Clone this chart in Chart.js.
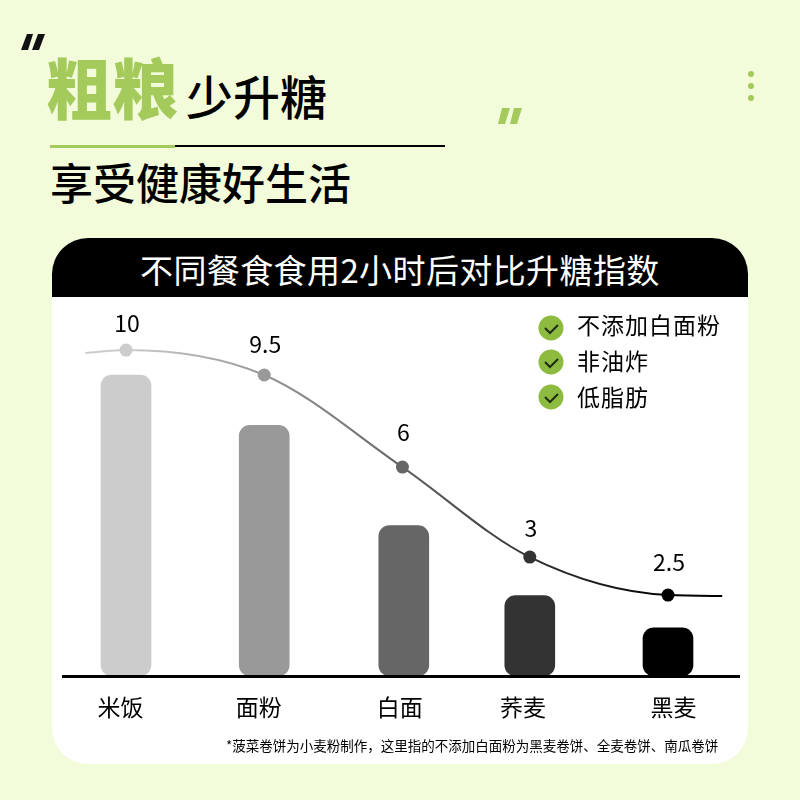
<!DOCTYPE html>
<html lang="zh">
<head>
<meta charset="utf-8">
<title>粗粮少升糖</title>
<script src="https://cdn.jsdelivr.net/npm/chart.js@4"></script>
<style>
    html, body { margin: 0; padding: 0; }
    body {
        position: relative;
        width: 800px;
        height: 800px;
        overflow: hidden;
        background: #f2fcdb;
        color: #000;
        font-family: "Noto Sans CJK SC", "Noto Sans", sans-serif;
    }
    .txt { position: absolute; line-height: 1; white-space: nowrap; }
    .abs { position: absolute; }
    #coarse { left: 46px; top: 52px; font-size: 66px; font-weight: 900; color: #a5ca5c; }
    #less { left: 186px; top: 71px; font-size: 47px; font-weight: 500; }
    #sub { left: 50px; top: 160px; font-size: 43px; font-weight: 500; }
    #rule-green { left: 50px; top: 145px; width: 125px; height: 3px; background: #a5ca5c; }
    #rule-black { left: 175px; top: 145px; width: 270px; height: 2px; background: #000; }
    #card { left: 52px; top: 238px; width: 696px; height: 526px; background: #fff; border-radius: 36px; overflow: hidden; }
    #card-head { left: 0; top: 0; width: 696px; height: 59px; background: #000; }
    #head-text { left: 140px; top: 253px; font-size: 33px; color: #fff; letter-spacing: 0.4px; }
    #chart { left: 52px; top: 297px; }
    .feat { left: 577px; font-size: 23px; letter-spacing: 1px; }
    #note { left: 226px; top: 739px; font-size: 13.5px; }
</style>
</head>
<body>
<svg class="abs" width="800" height="800" style="left:0;top:0">
    <polygon points="27,34 33,34 28,50 21,50" fill="#111"/>
    <polygon points="38,34 45,34 39,50 32,50" fill="#111"/>
    <polygon points="502,108 510,108 505,124 498,124" fill="#a5ca5c"/>
    <polygon points="514,108 522,108 517,124 510,124" fill="#a5ca5c"/>
    <circle cx="751" cy="74" r="3" fill="#a5ca5c"/>
    <circle cx="751" cy="86" r="3" fill="#a5ca5c"/>
    <circle cx="751" cy="98" r="3" fill="#a5ca5c"/>
</svg>

<div class="txt" id="coarse">粗粮</div>
<div class="txt" id="less">少升糖</div>
<div class="abs" id="rule-green"></div>
<div class="abs" id="rule-black"></div>
<div class="txt" id="sub">享受健康好生活</div>

<div class="abs" id="card"><div class="abs" id="card-head"></div></div>
<div class="txt" id="head-text">不同餐食食用2小时后对比升糖指数</div>

<canvas class="abs" id="chart" width="696" height="440"></canvas>

<svg class="abs" width="800" height="800" style="left:0;top:0">
    <g fill="#8dbb3f">
        <circle cx="551" cy="328" r="12.5"/>
        <circle cx="551" cy="362" r="12.5"/>
        <circle cx="551" cy="397" r="12.5"/>
    </g>
    <g fill="none" stroke="#1c2b10" stroke-width="2">
        <polyline points="545,328 550,333 558,325"/>
        <polyline points="545,362 550,367 558,359"/>
        <polyline points="545,397 550,402 558,394"/>
    </g>
</svg>
<div class="txt feat" style="top:313px">不添加白面粉</div>
<div class="txt feat" style="top:349px">非油炸</div>
<div class="txt feat" style="top:385px">低脂肪</div>
<div class="txt" id="note">*菠菜卷饼为小麦粉制作，这里指的不添加白面粉为黑麦卷饼、全麦卷饼、南瓜卷饼</div>

<script>
    // 数据
    const categories = ["米饭", "面粉", "白面", "荞麦", "黑麦"];
    const printedValues = ["10", "9.5", "6", "3", "2.5"];
    // slots on the x axis, the picture does not space them evenly
    const barSlots = [0, 1.02, 2.05, 2.98, 4];
    const labelSlots = [-0.04, 0.98, 2.02, 2.93, 4.04];
    const barValues = [10, 8.33, 5, 2.67, 1.6];
    // curve runs a little past the first and last bar
    const curveSlots = [-0.3, 0, 1.02, 2.04, 2.98, 4, 4.4];
    const curveValues = [10.73, 10.83, 10, 6.94, 3.95, 2.69, 2.66];
    const barColors = ["#cccccc", "#999999", "#666666", "#333333", "#000000"];

    const labelLift = [27, 31, 35, 29, 33];

    const printedLabels = {
        id: "printedLabels",
        afterDatasetsDraw(chart) {
            const pts = chart.getDatasetMeta(1).data;
            const c = chart.ctx;
            c.save();
            c.font = '23px "Noto Sans CJK SC"';
            c.fillStyle = "#000";
            c.textAlign = "center";
            c.textBaseline = "middle";
            printedValues.forEach((txt, i) => {
                const p = pts[i + 1];
                c.fillText(txt, p.x + 1, p.y - labelLift[i]);
            });
            c.restore();
        }
    };

    function curveColor(ctx) {
        const chart = ctx.chart;
        if (!chart.chartArea) return "#888";
        const x = chart.scales.x;
        const g = chart.ctx.createLinearGradient(x.getPixelForValue(0), 0, x.getPixelForValue(4), 0);
        barColors.forEach((col, i) => g.addColorStop(i / 4, col));
        return g;
    }

    new Chart(document.getElementById("chart"), {
        type: "bar",
        data: {
            datasets: [{
                type: "bar",
                data: barSlots.map((x, i) => ({ x: x, y: barValues[i] })),
                backgroundColor: barColors,
                barThickness: 50,
                borderRadius: 11,
                borderSkipped: false,
                order: 2
            }, {
                type: "line",
                data: curveSlots.map((x, i) => ({ x: x, y: curveValues[i] })),
                borderColor: curveColor,
                borderWidth: 2,
                cubicInterpolationMode: "monotone",
                pointRadius: [0, 6.5, 6.5, 6.5, 6.5, 6.5, 0],
                pointBorderWidth: 0,
                pointBackgroundColor: ["#ccc"].concat(barColors, ["#000"]),
                order: 1
            }]
        },
        options: {
            responsive: false,
            animation: false,
            layout: { padding: { left: 11, right: 9, top: 10, bottom: 0 } },
            plugins: { legend: { display: false }, tooltip: { enabled: false } },
            scales: {
                x: {
                    type: "linear",
                    offset: false,
                    bounds: "data",
                    min: -0.465,
                    max: 4.524,
                    afterBuildTicks: axis => { axis.ticks = labelSlots.map(v => ({ value: v })); },
                    afterFit: axis => { axis.height = 61; },
                    grid: { display: false, drawTicks: false },
                    border: { color: "#000", width: 3, z: 1 },
                    ticks: {
                        autoSkip: false,
                        maxRotation: 0,
                        padding: 17,
                        color: "#000",
                        font: { family: '"Noto Sans CJK SC"', size: 23 },
                        callback: (v, i) => categories[i]
                    }
                },
                y: { display: false, min: 0, max: 12.26 }
            }
        },
        plugins: [printedLabels]
    });
</script>
</body>
</html>
